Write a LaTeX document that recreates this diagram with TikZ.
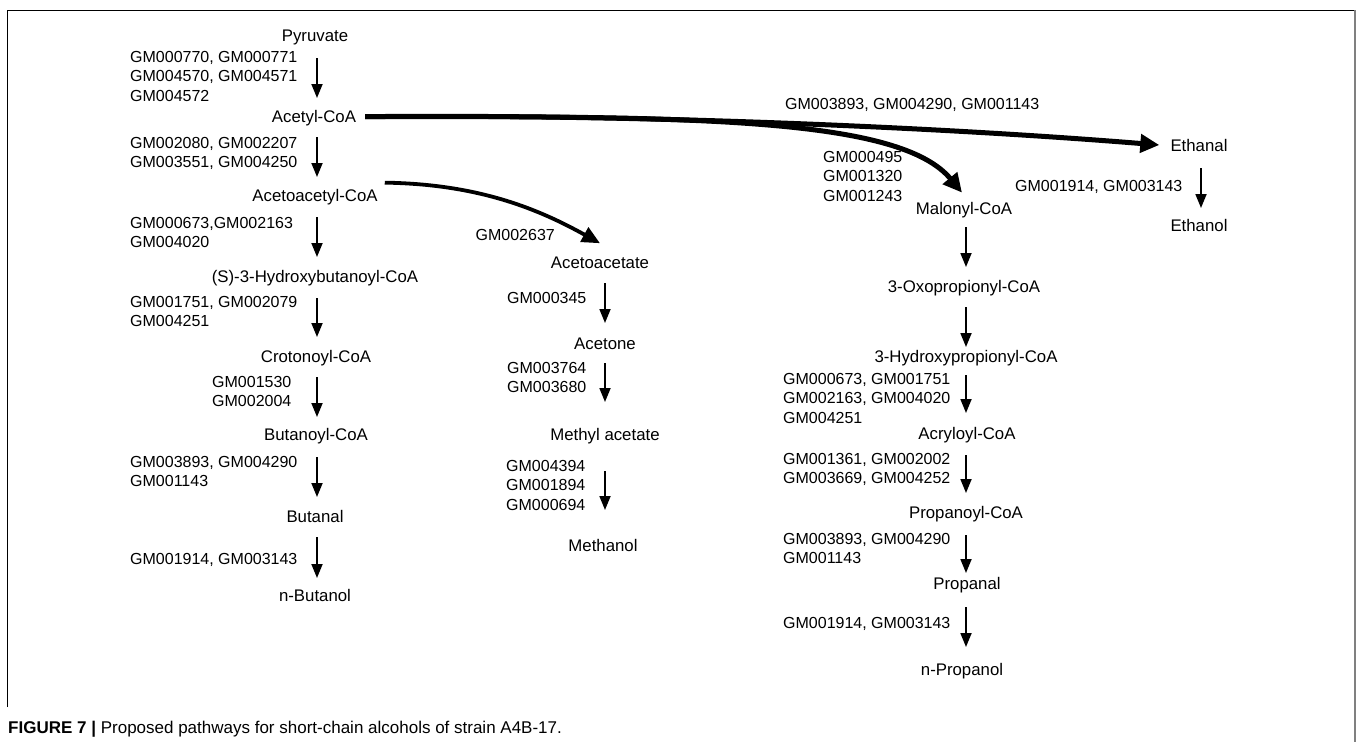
\documentclass[tikz,border=0pt]{standalone}
\usepackage{fontspec}
\setmainfont{Liberation Sans}
\usetikzlibrary{arrows.meta}
\newcommand\labfont{\fontsize{16.8}{19.5}\selectfont}
\newcommand\gmfont{\fontsize{16}{19.5}\selectfont}
\newcommand\capfont{\fontsize{17}{20}\selectfont}
\begin{document}
\begin{tikzpicture}[x=1pt,y=-1pt,
  lab/.style={font=\labfont, inner sep=0pt, anchor=base},
  gm/.style={font=\gmfont, inner sep=0pt, anchor=north west, align=left},
  varr/.style={line width=1.8pt, -{Triangle[length=14pt,width=11pt]}},
  bigarr/.style={line width=5pt, -{Triangle[length=19pt,width=18pt]}},
  midarr/.style={line width=3.8pt, -{Triangle[length=18pt,width=16pt]}},
  frameline/.style={line width=1pt, black},
  frameside/.style={line width=2pt, gray}]
\fill[white] (0,0) rectangle (1358,742);
\useasboundingbox (0,0) rectangle (1358,742);
% frame
\draw[frameline] (7,707) -- (7,10) -- (1355,10);
\draw[frameside] (1355,10) -- (1355,742);

% left column
\node[lab] (pyr) at (315,41) {Pyruvate};
\node[lab] (acetyl) at (314,122) {Acetyl-CoA};
\node[lab] (acac) at (315,201) {Acetoacetyl-CoA};
\node[lab] (hbc) at (315,282) {(S)-3-Hydroxybutanoyl-CoA};
\node[lab] (crot) at (316,362) {Crotonoyl-CoA};
\node[lab] (butcoa) at (316,440) {Butanoyl-CoA};
\node[lab] (butanal) at (315,522) {Butanal};
\node[lab] (nbut) at (315,601) {n-Butanol};
\coordinate (lx) at (317,0);

\node[gm] (g1) at (130,51) {GM000770, GM000771\\GM004570, GM004571\\GM004572};
\node[gm] (g2) at (130,137) {GM002080, GM002207\\GM003551, GM004250};
\node[gm] (g3) at (130,217) {GM000673,GM002163\\GM004020};
\node[gm] (g4) at (130,296) {GM001751, GM002079\\GM004251};
\node[gm] (g5) at (212,376) {GM001530\\GM002004};
\node[gm] (g6) at (130,456) {GM003893, GM004290\\GM001143};
\node[gm] (g7) at (130,553) {GM001914, GM003143};

\draw[varr, shorten <=17pt, shorten >=24pt] (lx |- pyr.base) -- (lx |- acetyl.base);
\draw[varr, shorten <=15pt, shorten >=24pt] (lx |- acetyl.base) -- (lx |- acac.base);
\draw[varr, shorten <=16pt, shorten >=25pt] (lx |- acac.base) -- (lx |- hbc.base);
\draw[varr, shorten <=16pt, shorten >=25pt] (lx |- hbc.base) -- (lx |- crot.base);
\draw[varr, shorten <=15pt, shorten >=23pt] (lx |- crot.base) -- (lx |- butcoa.base);
\draw[varr, shorten <=17pt, shorten >=25pt] (lx |- butcoa.base) -- (lx |- butanal.base);
\draw[varr, shorten <=15pt, shorten >=23pt] (lx |- butanal.base) -- (lx |- nbut.base);

% middle column
\node[lab] (acetoacetate) at (600,268) {Acetoacetate};
\node[lab] (acetone) at (605,349) {Acetone};
\node[lab] (methylac) at (605,440) {Methyl acetate};
\node[lab] (methanol) at (603,551) {Methanol};

\node[gm, anchor=north east] (g8) at (555,229) {GM002637};
\node[gm] (g9) at (507,292) {GM000345};
\node[gm] (g10) at (507,362) {GM003764\\GM003680};
\node[gm] (g11) at (506,460) {GM004394\\GM001894\\GM000694};

\draw[varr, shorten <=15pt, shorten >=26pt] (acetone.base |- acetoacetate.base) -- (acetone.base);
\draw[varr, shorten <=14pt, shorten >=38pt] (acetone.base) -- (acetone.base |- methylac.base);
\draw[varr, shorten <=31pt, shorten >=41pt] (acetone.base |- methylac.base) -- (acetone.base |- methanol.base);

% right part
\node[lab] (ethanal) at (1199,151) {Ethanal};
\node[lab] (ethanol) at (1199,231) {Ethanol};
\node[lab] (malonyl) at (964,214) {Malonyl-CoA};
\node[lab] (oxo) at (964,292) {3-Oxopropionyl-CoA};
\node[lab] (hpc) at (966,362) {3-Hydroxypropionyl-CoA};
\node[lab] (acry) at (967,439) {Acryloyl-CoA};
\node[lab] (propanoyl) at (966,518) {Propanoyl-CoA};
\node[lab] (propanal) at (967,589) {Propanal};
\node[lab] (npropanol) at (962,675) {n-Propanol};
\coordinate (rx) at (966,0);

\node[gm] (g12) at (785,98) {GM003893, GM004290, GM001143};
\node[gm] (g13) at (823,151) {GM000495\\GM001320\\GM001243};
\node[gm] (g14) at (1015,180) {GM001914, GM003143};
\node[gm] (g15) at (783,373) {GM000673, GM001751\\GM002163, GM004020\\GM004251};
\node[gm] (g16) at (783,453) {GM001361, GM002002\\GM003669, GM004252};
\node[gm] (g17) at (783,533) {GM003893, GM004290\\GM001143};
\node[gm] (g18) at (783,617) {GM001914, GM003143};

\draw[varr, shorten <=17pt, shorten >=23pt] ([xshift=2pt]ethanal.base) -- ([xshift=2pt]ethanal.base |- ethanol.base);
\draw[varr, shorten <=13pt, shorten >=25pt] (rx |- malonyl.base) -- (rx |- oxo.base);
\draw[varr, shorten <=15pt, shorten >=15pt] (rx |- oxo.base) -- (rx |- hpc.base);
\draw[varr, shorten <=13pt, shorten >=26pt] (rx |- hpc.base) -- (rx |- acry.base);
\draw[varr, shorten <=16pt, shorten >=25pt] (rx |- acry.base) -- (rx |- propanoyl.base);
\draw[varr, shorten <=17pt, shorten >=16pt] (rx |- propanoyl.base) -- (rx |- propanal.base);
\draw[varr, shorten <=18pt, shorten >=28pt] (rx |- propanal.base) -- (rx |- npropanol.base);

% curved arrows
\coordinate (s1) at ([xshift=9pt,yshift=1pt]acetyl.east);
\draw[bigarr] (s1) .. controls (650,114) and (950,128) .. ([xshift=-11pt]ethanal.west);
\draw[bigarr] (s1) .. controls (700,116) and (900,118) .. ([xshift=-2pt,yshift=9pt]malonyl.north);
\draw[midarr] ([xshift=7pt,yshift=14pt]acac.east) .. controls (480,184) and (540,210) .. ([yshift=13pt]acetoacetate.north);

% caption
\node[anchor=base west, inner sep=0pt, font=\capfont] (cap) at (8,733)
  {\textbf{FIGURE 7 |} Proposed pathways for short-chain alcohols of strain A4B-17.};
\end{tikzpicture}
\end{document}
